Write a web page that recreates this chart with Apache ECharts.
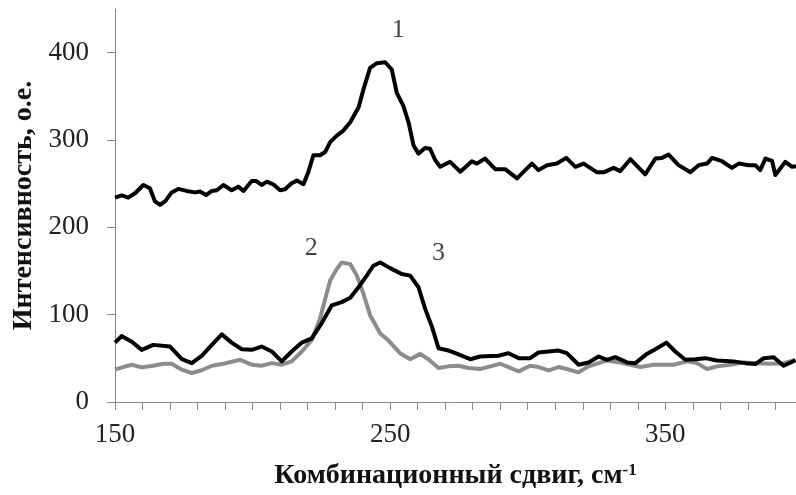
<!DOCTYPE html>
<html>
<head>
<meta charset="utf-8">
<script src="https://cdn.jsdelivr.net/npm/echarts@6/dist/echarts.min.js"></script>
<style>
html,body{margin:0;padding:0;background:#fff;}
#c{width:796px;height:495px;}
</style>
</head>
<body>
<div id="c"></div>
<script>
// Curve 1 (upper, black)
const s1X = [150,152.4,154.8,157.3,160.3,162.7,164.5,166.4,168.2,170.6,173,176,179.1,180.9,183.1,185.2,187,189.4,192.4,194.8,196.7,199.7,201.3,203.3,205.2,207.6,210,211.8,214.2,216.1,218.5,220.3,222.1,224.5,226.4,228.2,230.6,233,235.5,238.5,240.3,242.7,245.2,248.2,250.6,252.4,254.8,256.7,258.5,260.3,262.7,264.5,266.4,268.2,271.8,275.5,279.7,281.5,284.5,288.2,291.8,296.1,301.5,303.9,307,310.6,314,317.3,320.3,325.2,327.6,331.2,333.6,337.3,342.7,346.4,348.8,351.2,354.8,359.1,362.1,365.2,367,370.6,374.2,376.7,380.3,382.7,384.5,386.4,388.8,390,393.6,396.1,397.5];
const s1Y = [234,236.5,234,239,248.5,244.8,229.7,225.9,229.7,240,244,241.7,240,241,237,241.7,242.5,248.5,242.5,246.6,241.7,253,253,248.5,252.3,249,242.5,243.5,250.4,253.5,249.3,263.7,282.5,282.5,286.3,297.6,305,310.8,320.3,337.3,358,382.6,388,389,380.7,354,339,320,293.8,284.4,290.8,290,276.8,269.3,275,263.7,275.7,273,278.8,266.6,266.6,256,273,265.5,271.2,273,279.5,269.3,273,263,263,268.1,264.4,278,260.6,278.8,279.5,283.3,271.2,263,271.2,273,279.5,275.7,268.1,273,271.2,271.2,265.5,278.8,276,260,275,269.3,270];

// Curve 2 (gray)
const s2X = [150,153,156.1,159.7,163.9,167.6,170.6,174.3,177.9,181.5,185.2,189.4,195.5,199.7,203.3,207,210.6,214.2,217.9,221.5,224.5,228.2,230.6,232.4,235.5,237.9,240.3,242.7,246.4,249.4,253.6,257.3,260.9,263.9,267.6,271.2,274.8,278.5,282.7,286.4,290,293,296.7,300.9,303.9,307.6,311.2,314.2,318.5,322.1,325.8,328.8,333.6,340.9,345.8,353,357.9,361.5,365.2,368.8,373.6,378.5,383.3,388.2,393,397.3];
const s2Y = [37,40,42.7,39.7,41.5,43.8,43.8,37,33.2,36.3,41.5,43.8,48.3,42.7,41.5,44.5,42.7,46.5,57.8,71,95.5,139,152.2,159.8,157.9,144.7,123.9,99.4,78.5,70.3,55.9,49,55.1,49,38.9,40.8,41.5,38.9,37.8,40.8,43.8,40,35.1,41.5,40,36.3,40,37.8,34,40.8,44.5,47.6,45.3,40,42.7,42.7,46.5,44.5,37.8,40.8,42.7,45.3,44.5,43.8,44.5,48.3];

// Curve 3 (lower, black)
const s3X = [150,152.4,156.1,159.7,163.9,170,174.3,177.9,181.5,185.2,188.8,192.4,196.1,199.7,203.3,207,210.6,214.2,217.9,221.5,225.2,228.8,232.4,235.5,238.5,241.5,243.9,246.4,250,254.2,257.3,260.3,262.7,265.2,267.6,271.2,273,279.1,282.7,289.4,293,296.7,300.9,303.9,311.2,314.2,318.5,322.1,325.8,328.8,331.8,336.1,339.1,343.3,347,350.4,353.6,357.3,360.9,364.5,368.8,374.8,379.1,382.7,385.8,389.4,393,397.3];
const s3Y = [68,75.5,69,59.7,65.4,63.5,49,44.5,52.9,65.4,77.4,68,60.4,59.7,63.5,57.8,46.5,57.8,68,72.9,90.7,110.7,114.4,119.3,131.4,144.7,156,159.8,153.3,146.5,144.7,131.4,106.9,86,61.5,58.9,56.7,49,52.1,52.9,55.9,50.2,50.2,56.7,58.9,55.9,42.7,45.3,52.1,48.3,51.3,45.3,44.5,55.1,61.5,68,57.8,48.3,49,50.2,47.6,46.5,44.5,43.4,50.2,51.3,41.5,47.6];

// Tick values and labels
const xTickValues = [150,160,170,180,190,200,210,220,230,240,250,260,270,280,290,300,310,320,330,340,350,360,370,380,390];
const xLabelValues = [150,250,350];
const yTickValues = [0,100,200,300,400];

// Curve number labels
const numText = ['1','2','3'];
const numX = [252.9,221.3,267.6];
const numY = [426,176,170];

const zip = (xs, ys) => xs.map((x, i) => [x, ys[i]]);

const chart = echarts.init(document.getElementById('c'), null, {renderer: 'canvas'});
const serif = 'Liberation Serif, Times New Roman, serif';
const axisColor = '#898989';
const textColor = '#222222';

chart.setOption({
  animation: false,
  backgroundColor: '#ffffff',
  grid: {left: 115, right: 0, top: 9, bottom: 89, containLabel: false},
  xAxis: {
    type: 'value',
    min: 150,
    max: 397.5,
    interval: 10,
    axisLine: {show: true, onZero: false, lineStyle: {color: axisColor, width: 1}},
    axisTick: {show: true, length: 8, inside: false, customValues: xTickValues, lineStyle: {color: axisColor}},
    minorTick: {show: false},
    splitLine: {show: false},
    axisLabel: {customValues: xLabelValues, margin: 19, color: textColor, fontFamily: serif, fontSize: 27},
    name: 'Комбинационный сдвиг, см{sup|-1}',
    nameLocation: 'middle',
    nameGap: 60,
    nameTextStyle: {
      fontFamily: serif, fontWeight: 'bold', fontSize: 28, color: '#111',
      rich: {sup: {fontFamily: serif, fontWeight: 'bold', fontSize: 17, verticalAlign: 'top', color: '#111'}}
    }
  },
  yAxis: {
    type: 'value',
    min: 0,
    max: 450,
    interval: 50,
    axisLine: {show: true, lineStyle: {color: axisColor, width: 1}},
    axisTick: {show: true, length: 8, customValues: yTickValues, lineStyle: {color: axisColor}},
    splitLine: {show: false},
    axisLabel: {customValues: yTickValues, margin: 26, color: textColor, fontFamily: serif, fontSize: 27},
    name: 'Интенсивность, о.е.',
    nameLocation: 'middle',
    nameGap: 74,
    nameTextStyle: {fontFamily: serif, fontWeight: 'bold', fontSize: 28, color: '#111'}
  },
  series: [
    {
      type: 'line', name: '1', data: zip(s1X, s1Y), showSymbol: false, symbol: 'none',
      lineStyle: {color: '#000', width: 4, join: 'round'}, z: 3
    },
    {
      type: 'line', name: '2', data: zip(s2X, s2Y), showSymbol: false, symbol: 'none',
      lineStyle: {color: '#8c8c8c', width: 4, join: 'round'}, z: 2
    },
    {
      type: 'line', name: '3', data: zip(s3X, s3Y), showSymbol: false, symbol: 'none',
      lineStyle: {color: '#000', width: 4, join: 'round'}, z: 3
    },
    {
      type: 'scatter', name: 'labels',
      data: numText.map((t, i) => ({value: [numX[i], numY[i]], name: t})),
      symbolSize: 1,
      itemStyle: {color: 'rgba(0,0,0,0)'},
      label: {show: true, position: 'inside', formatter: p => p.name, fontFamily: serif, fontSize: 26, color: '#111'},
      z: 5
    }
  ]
});
</script>
</body>
</html>
